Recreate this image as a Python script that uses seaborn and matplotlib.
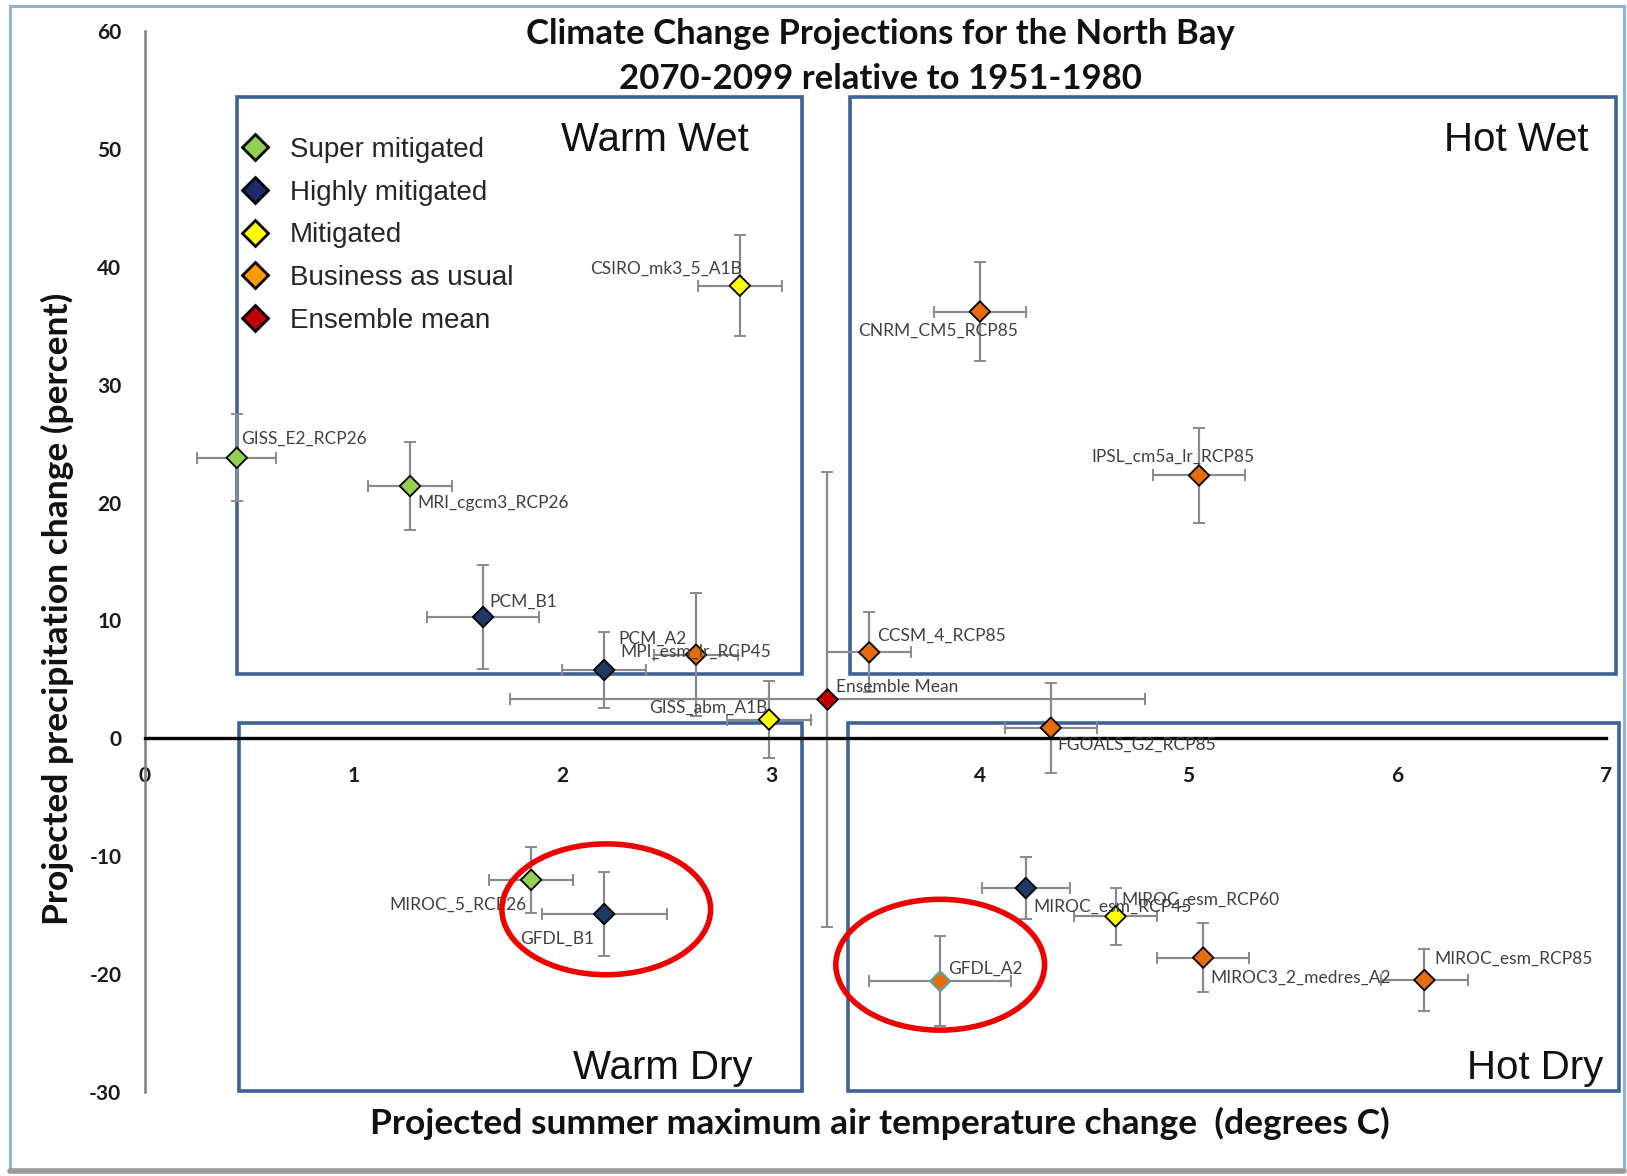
import numpy as np
import pandas as pd
import matplotlib
matplotlib.use("Agg")
import matplotlib.pyplot as plt
import seaborn as sns
from matplotlib.patches import Rectangle, Ellipse
from matplotlib.lines import Line2D

# ---- data -------------------------------------------------------------
models = [
    "GISS_E2_RCP26", "MRI_cgcm3_RCP26", "PCM_B1", "PCM_A2", "MPI_esm_lr_RCP45",
    "GISS_abm_A1B", "Ensemble Mean", "CSIRO_mk3_5_A1B", "CNRM_CM5_RCP85",
    "IPSL_cm5a_lr_RCP85", "CCSM_4_RCP85", "FGOALS_G2_RCP85", "MIROC_5_RCP26",
    "GFDL_B1", "MIROC_esm_RCP45", "MIROC_esm_RCP60", "MIROC3_2_medres_A2",
    "MIROC_esm_RCP85", "GFDL_A2",
]
scenarios = [
    "Super mitigated", "Super mitigated", "Highly mitigated", "Highly mitigated",
    "Business as usual", "Mitigated", "Ensemble mean", "Mitigated",
    "Business as usual", "Business as usual", "Business as usual",
    "Business as usual", "Super mitigated", "Highly mitigated",
    "Highly mitigated", "Mitigated", "Business as usual", "Business as usual",
    "Business as usual",
]
temp_change = [0.44, 1.27, 1.62, 2.20, 2.64, 2.99, 3.27, 2.85, 4.00,
               5.05, 3.47, 4.34, 1.85, 2.20, 4.22, 4.65, 5.07, 6.13, 3.81]
temp_err = [0.19, 0.20, 0.27, 0.20, 0.20, 0.20, 1.52, 0.20, 0.22,
            0.22, 0.20, 0.22, 0.20, 0.30, 0.21, 0.20, 0.22, 0.21, 0.34]
precip_change = [23.8, 21.4, 10.3, 5.8, 7.1, 1.6, 3.3, 38.4, 36.2,
                 22.3, 7.3, 0.9, -12.0, -14.9, -12.7, -15.1, -18.6, -20.5, -20.6]
precip_err = [3.7, 3.7, 4.4, 3.2, 5.2, 3.3, 19.3, 4.3, 4.2,
              4.0, 3.4, 3.8, 2.8, 3.6, 2.6, 2.4, 2.9, 2.6, 3.8]

scenario_order = ["Super mitigated", "Highly mitigated", "Mitigated",
                  "Business as usual", "Ensemble mean"]

# ---- styling ---------------------------------------------------------
point_colors = {
    "Super mitigated": "#92d050",
    "Highly mitigated": "#1f3864",
    "Mitigated": "#ffff00",
    "Business as usual": "#e46c0a",
    "Ensemble mean": "#c00000",
}
legend_colors = {
    "Super mitigated": "#92d050",
    "Highly mitigated": "#1f2a6e",
    "Mitigated": "#ffff00",
    "Business as usual": "#ff9a00",
    "Ensemble mean": "#c00000",
}
# label offsets in pixels (dx, dy) and horizontal alignment
label_layout = {
    "GISS_E2_RCP26": (4, 19, "left"),
    "MRI_cgcm3_RCP26": (7, -17, "left"),
    "PCM_B1": (6, 15, "left"),
    "PCM_A2": (14, 31, "left"),
    "MPI_esm_lr_RCP45": (0, 3, "center"),
    "GISS_abm_A1B": (-2, 12, "right"),
    "Ensemble Mean": (9, 12, "left"),
    "CSIRO_mk3_5_A1B": (2, 17, "right"),
    "CNRM_CM5_RCP85": (-42, -19, "center"),
    "IPSL_cm5a_lr_RCP85": (-26, 19, "center"),
    "CCSM_4_RCP85": (8, 17, "left"),
    "FGOALS_G2_RCP85": (7, -17, "left"),
    "MIROC_5_RCP26": (-5, -25, "right"),
    "GFDL_B1": (-47, -25, "center"),
    "MIROC_esm_RCP45": (8, -19, "left"),
    "MIROC_esm_RCP60": (6, 17, "left"),
    "MIROC3_2_medres_A2": (7, -20, "left"),
    "MIROC_esm_RCP85": (10, 21, "left"),
    "GFDL_A2": (8, 12, "left"),
}

df = pd.DataFrame({
    "model": models,
    "scenario": scenarios,
    "temp": temp_change,
    "temp_err": temp_err,
    "precip": precip_change,
    "precip_err": precip_err,
})

sns.set_theme(style="white")
plt.rcParams["font.family"] = ["Lato", "DejaVu Sans"]
plt.rcParams["axes.unicode_minus"] = False

fig = plt.figure(figsize=(16.27, 11.76), dpi=100)
ax = fig.add_axes([0.0891, 0.0714, 0.898, 0.9022])

ax.set_xlim(0, 7)
ax.set_ylim(-30, 60)

# quadrant boxes
box_color = "#3d6296"
quadrants = [
    (0.443, 5.45, 3.148, 54.4),
    (3.38, 5.45, 7.05, 54.4),
    (0.452, -29.9, 3.148, 1.3),
    (3.37, -29.9, 7.06, 1.3),
]
for x0, y0, x1, y1 in quadrants:
    ax.add_patch(Rectangle((x0, y0), x1 - x0, y1 - y0, fill=False,
                           edgecolor=box_color, linewidth=2.6,
                           clip_on=False, zorder=1))

quad_font = dict(family=["Liberation Sans", "DejaVu Sans"], fontsize=29,
                 color="#111111", va="center")
ax.text(2.444, 50.8, "Warm Wet", ha="center", **quad_font)
ax.text(6.914, 50.8, "Hot Wet", ha="right", **quad_font)
ax.text(2.913, -28.0, "Warm Dry", ha="right", **quad_font)
ax.text(6.986, -28.0, "Hot Dry", ha="right", **quad_font)

# error bars
ax.errorbar(df["temp"], df["precip"], xerr=df["temp_err"], yerr=df["precip_err"],
            fmt="none", ecolor="#8a8a8a", elinewidth=1.6, capsize=4,
            capthick=1.4, zorder=2)

# markers
sns.scatterplot(data=df, x="temp", y="precip", hue="scenario",
                hue_order=scenario_order, palette=point_colors, marker="D",
                s=110, edgecolor="black", linewidth=1.3, legend=False,
                zorder=4, ax=ax)
edge_cols = ["#4bacc6" if m == "GFDL_A2" else "black" for m in df["model"]]
ax.collections[-1].set_edgecolor(edge_cols)

# model labels
for m, xv, yv in zip(df["model"], df["temp"], df["precip"]):
    dx, dy, ha = label_layout[m]
    ax.annotate(m, (xv, yv), xytext=(dx, dy), textcoords="offset pixels",
                ha=ha, va="center", fontsize=12.5, color="#404040", zorder=5)

# highlighted models
for cx, cy in [(2.21, -14.5), (3.81, -19.2)]:
    ax.add_patch(Ellipse((cx, cy), 1.0, 11.1, fill=False, edgecolor="#ee0000",
                         linewidth=4, zorder=6))

# axes styling
ax.spines["top"].set_visible(False)
ax.spines["right"].set_visible(False)
ax.spines["left"].set_position(("data", 0))
ax.spines["bottom"].set_position(("data", 0))
ax.spines["left"].set_color("#7f7f7f")
ax.spines["left"].set_linewidth(1.8)
ax.spines["bottom"].set_color("black")
ax.spines["bottom"].set_linewidth(2.4)
ax.spines["bottom"].set_zorder(3)

ax.set_xticks(np.arange(0, 8, 1))
ax.set_yticks(np.arange(-30, 61, 10))
ax.tick_params(axis="x", direction="out", length=7, width=2.2, color="black",
               pad=13, labelsize=15)
ax.tick_params(axis="y", direction="out", length=7, width=1.6, color="#7f7f7f",
               pad=10, labelsize=15)
for lab in ax.get_xticklabels() + ax.get_yticklabels():
    lab.set_fontweight("bold")
    lab.set_color("#1a1a1a")
ax.set_xlabel("")
ax.set_ylabel("")

# legend
handles = [Line2D([], [], linestyle="none", marker="D", markersize=13,
                  markerfacecolor=legend_colors[s], markeredgecolor="black",
                  markeredgewidth=2.0, label=s) for s in scenario_order]
ax.legend(handles=handles, loc="upper left", bbox_to_anchor=(0.066, 0.9),
          frameon=False, handlelength=1.0, handletextpad=0.75,
          labelspacing=0.6, borderpad=0, borderaxespad=0,
          prop={"family": ["Liberation Sans", "DejaVu Sans"], "size": 20},
          labelcolor="#262626")

# titles and axis labels
fig.text(0.541, 0.952,
         "Climate Change Projections for the North Bay\n2070-2099 relative to 1951-1980",
         ha="center", va="center", fontsize=25, fontweight="bold",
         linespacing=1.5, color="#111111")
fig.text(0.541, 0.045,
         "Projected summer maximum air temperature change  (degrees C)",
         ha="center", va="center", fontsize=25.5, fontweight="bold", color="#111111")
fig.text(0.035, 0.482, "Projected precipitation change (percent)",
         ha="center", va="center", rotation=90, fontsize=25.5,
         fontweight="bold", color="#111111")

# outer frame
fig.patches.append(Rectangle((0.006, 0.005), 0.992, 0.99, transform=fig.transFigure,
                             fill=False, edgecolor="#8db3e2", linewidth=2.2))
fig.lines.append(Line2D([0.006, 0.998], [0.004, 0.004], transform=fig.transFigure,
                        color="#9a9a9a", linewidth=4))

fig.savefig("out.png", dpi=100, facecolor="white")
